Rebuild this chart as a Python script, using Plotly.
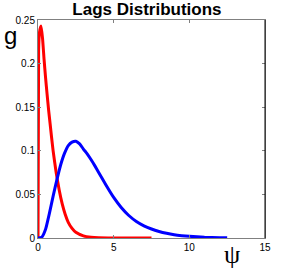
import plotly.graph_objects as go

# Red series
red_x = [0, 0.04, 0.1, 0.2, 0.3, 0.4, 0.5, 0.6, 0.7, 0.8, 0.9, 1.0, 1.2, 1.4, 1.6, 1.8,
         2.0, 2.25, 2.5, 3.0, 3.5, 4.0, 5.0, 6.0, 7.5]
red_y = [0, 0.215, 0.236, 0.243, 0.229, 0.205, 0.184, 0.165, 0.147, 0.131, 0.115, 0.100,
         0.075, 0.055, 0.039, 0.027, 0.018, 0.011, 0.0065, 0.0025, 0.001, 0.0004, 0.0001, 0, 0]

# Blue series
blue_x = [0, 0.25, 0.5, 0.75, 1.0, 1.25, 1.5, 1.75, 2.0, 2.25, 2.5, 2.75, 3.0, 3.25, 3.5,
          3.75, 4.0, 4.5, 5.0, 5.5, 6.0, 6.5, 7.0, 7.5, 8.0, 8.5, 9.0, 9.5, 10.0, 11.0,
          12.0, 12.5]
blue_y = [0, 0.001, 0.010, 0.028, 0.048, 0.067, 0.084, 0.097, 0.106, 0.110, 0.111, 0.108,
          0.102, 0.0965, 0.090, 0.083, 0.0755, 0.0605, 0.0465, 0.035, 0.0258, 0.019, 0.014,
          0.0103, 0.0075, 0.0054, 0.0038, 0.0027, 0.0019, 0.0009, 0.0004, 0.0003]

x_ticks = [0, 5, 10, 15]
x_tick_labels = ["0", "5", "10", "15"]
y_ticks = [0, 0.05, 0.1, 0.15, 0.2, 0.25]
y_tick_labels = ["0", "0.05", "0.1", "0.15", "0.2", "0.25"]

fig = go.Figure()
fig.add_trace(go.Scatter(x=red_x, y=red_y, mode="lines",
                         line=dict(color="#ff0000", width=3, shape="spline", smoothing=0.5),
                         showlegend=False))
fig.add_trace(go.Scatter(x=blue_x, y=blue_y, mode="lines",
                         line=dict(color="#0000ff", width=3, shape="spline", smoothing=0.5),
                         showlegend=False))

axis_common = dict(showgrid=False, zeroline=False, showline=True, linecolor="#808080",
                   linewidth=1, mirror="ticks", ticks="inside", ticklen=3,
                   tickcolor="#808080", automargin=False,
                   tickfont=dict(family="Liberation Sans, Arial", size=10, color="#000"))

fig.update_layout(
    width=291, height=268,
    margin=dict(l=38, r=26, t=20, b=30),
    paper_bgcolor="white", plot_bgcolor="white",
    title=dict(text="<b>Lags Distributions</b>", x=0.505, xanchor="center",
               y=0.968, yanchor="middle",
               font=dict(family="Liberation Sans, Arial", size=17, color="#000")),
    xaxis=dict(range=[0, 15], tickvals=x_ticks, ticktext=x_tick_labels, **axis_common),
    yaxis=dict(range=[0, 0.25], tickvals=y_ticks, ticktext=y_tick_labels, **axis_common),
    annotations=[
        dict(text="g", xref="paper", yref="paper", x=-0.12, y=0.93,
             xanchor="center", yanchor="middle", showarrow=False,
             font=dict(family="Liberation Sans, Arial", size=24, color="#000")),
        dict(text="ψ", xref="paper", yref="paper", x=0.855, y=-0.075,
             xanchor="center", yanchor="middle", showarrow=False,
             font=dict(family="Liberation Serif", size=26, color="#000")),
    ],
    shapes=[dict(type="line", xref="paper", yref="paper", x0=1, x1=1, y0=0, y1=1,
                 line=dict(color="#000", width=1))],
)

fig.write_html("out.html", config={"displayModeBar": False},
               post_script="document.body.style.margin='0';")
